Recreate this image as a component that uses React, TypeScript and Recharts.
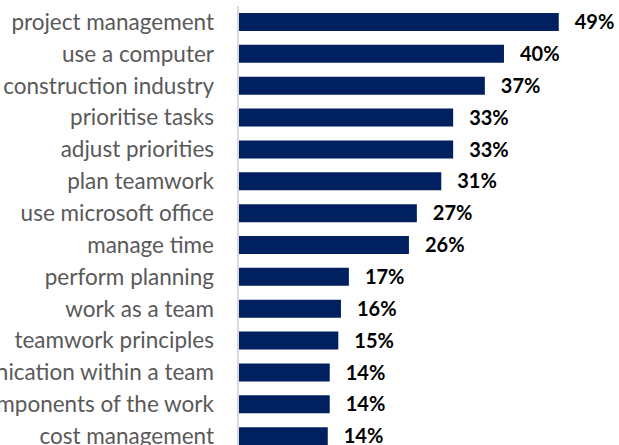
import React from "react";
import { Bar, BarChart, LabelList, XAxis, YAxis } from "recharts";

const skills = [
  "project management",
  "use a computer",
  "construction industry",
  "prioritise tasks",
  "adjust priorities",
  "plan teamwork",
  "use microsoft office",
  "manage time",
  "perform planning",
  "work as a team",
  "teamwork principles",
  "communication within a team",
  "components of the work",
  "cost management",
];

const shares = [48.6, 40.3, 37.4, 32.6, 32.6, 30.8, 27.1, 25.9, 16.8, 15.6, 15.2, 13.9, 13.9, 13.6];

const data = skills.map((skill, i) => ({ skill, value: shares[i] }));

const App = () => {
  return (
    <div
      style={{
        position: "fixed",
        left: 0,
        top: 0,
        width: 619,
        height: 445,
        overflow: "hidden",
        background: "#fff",
      }}
    >
      <BarChart
        width={619}
        height={452}
        data={data}
        layout="vertical"
        margin={{ top: 6, right: 18, bottom: 0, left: 0 }}
      >
        <XAxis type="number" domain={[0, 55]} hide />
        <YAxis
          type="category"
          dataKey="skill"
          width={238}
          tickSize={0}
          tickMargin={24}
          axisLine={{ stroke: "#d9d9d9", strokeWidth: 2 }}
          tick={{ fill: "#595959", fontSize: 22.5, fontFamily: "Lato" }}
          interval={0}
        />
        <Bar dataKey="value" fill="#002060" barSize={18} isAnimationActive={false}>
          <LabelList
            dataKey="value"
            position="right"
            offset={16}
            formatter={(v: number) => `${Math.round(v)}%`}
            style={{ fill: "#000", fontSize: 20, fontWeight: 700, fontFamily: "Lato" }}
          />
        </Bar>
      </BarChart>
    </div>
  );
};

export default App;
